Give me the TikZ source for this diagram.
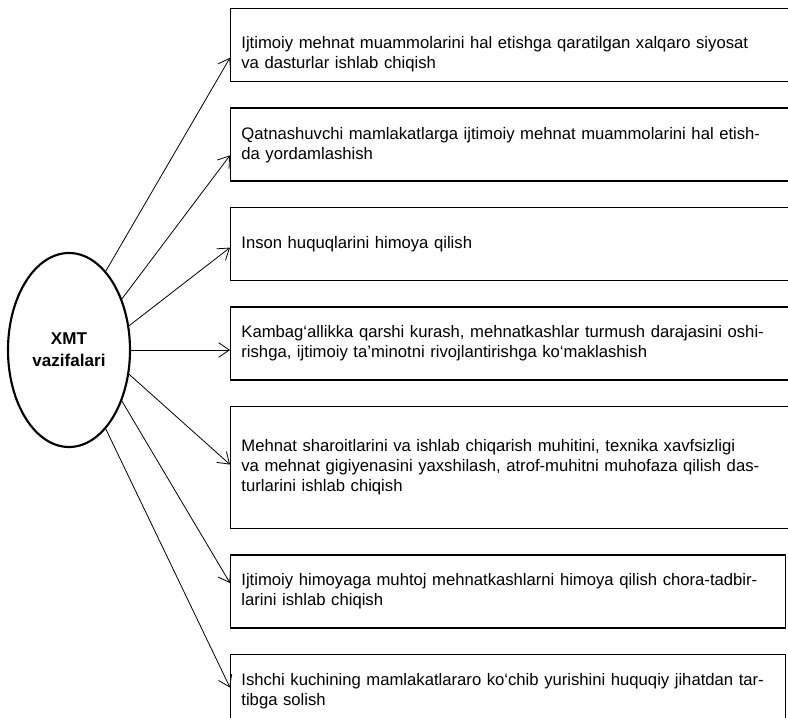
\documentclass[tikz,border=0pt]{standalone}
\usepackage{fontspec}
\setmainfont{Liberation Sans}
\usetikzlibrary{positioning,shapes.geometric,arrows.meta}

\begin{document}
\begin{tikzpicture}[x=0.75pt,y=-0.75pt,node distance=18.75pt,
      box/.style={rectangle,draw,line width=1.1pt,text width=440pt,minimum height=54.75pt,align=left,inner xsep=8pt,anchor=north west,font=\fontsize{12.5}{15}\selectfont},
      arr/.style={-{Straight Barb[length=8pt,width=11pt]},line width=0.6pt}]
      \path[clip,use as bounding box] (0,0) rectangle (788,717);
      \node[ellipse,draw,line width=1.6pt,minimum width=91.5pt,minimum height=145.5pt,inner sep=0pt,align=center,font=\bfseries\fontsize{12.8}{16.5}\selectfont] (xmt) at (69,350) {XMT\\vazifalari};
      \node[box] (b1) at (230,8) {\rule{0pt}{22pt}Ijtimoiy mehnat muammolarini hal etishga qaratilgan xalqaro siyosat\\va dasturlar ishlab chiqish};
      \node[box,below=of b1.south west,anchor=north west] (b2) {Qatnashuvchi mamlakatlarga ijtimoiy mehnat muammolarini hal etish-\\da yordamlashish};
      \node[box,below=of b2.south west,anchor=north west] (b3) {Inson huquqlarini himoya qilish};
      \node[box,below=of b3.south west,anchor=north west] (b4) {Kambag`allikka qarshi kurash, mehnatkashlar turmush darajasini oshi-\\rishga, ijtimoiy ta'minotni rivojlantirishga ko`maklashish};
      \node[box,below=of b4.south west,anchor=north west,minimum height=91.5pt] (b5) {Mehnat sharoitlarini va ishlab chiqarish muhitini, texnika xavfsizligi\\va mehnat gigiyenasini yaxshilash, atrof-muhitni muhofaza qilish das-\\turlarini ishlab chiqish};
      \node[box,below=of b5.south west,anchor=north west,text width=400.25pt] (b6) {Ijtimoiy himoyaga muhtoj mehnatkashlarni himoya qilish chora-tadbir-\\larini ishlab chiqish};
      \node[box,below=of b6.south west,anchor=north west,text width=400.25pt] (b7) {Ishchi kuchining mamlakatlararo ko`chib yurishini huquqiy jihatdan tar-\\tibga solish};
      \draw[arr] (xmt.65) -- ([yshift=-9.4pt]b1.west);
      \draw[arr] (xmt.44) -- ([yshift=-8pt]b2.west);
      \draw[arr] (xmt.22) -- ([yshift=-2.6pt]b3.west);
      \draw[arr] (xmt.east) -- (xmt.east -| b4.west);
      \draw[arr] (xmt.-22) -- ([yshift=2.3pt]b5.west);
      \draw[arr] (xmt.-44) -- ([yshift=6.4pt]b6.west);
      \draw[arr] (xmt.-65) -- ([yshift=2.6pt]b7.west);
\end{tikzpicture}
\end{document}
